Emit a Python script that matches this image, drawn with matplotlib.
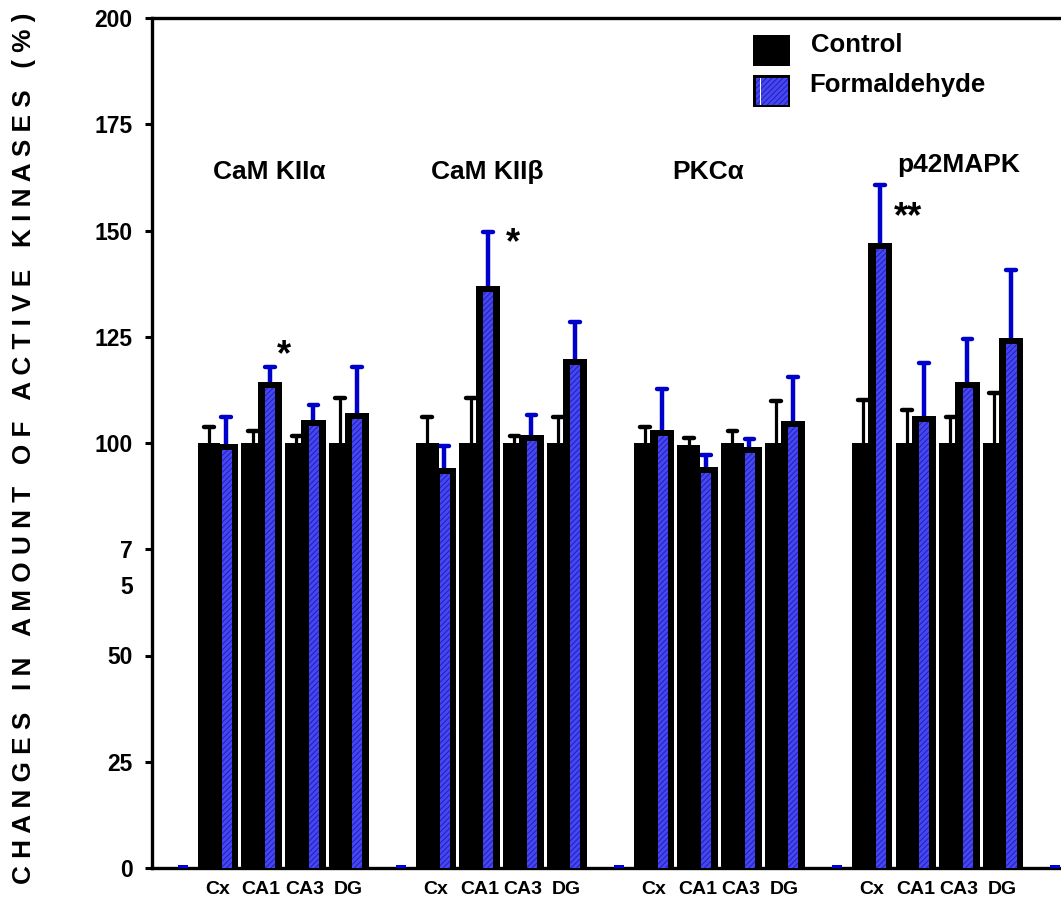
import matplotlib
matplotlib.use('Agg')
import matplotlib.pyplot as plt
from matplotlib.patches import Rectangle
import numpy as np

plt.rcParams['font.family'] = ['Liberation Sans', 'DejaVu Sans']
plt.rcParams['font.weight'] = 'bold'
plt.rcParams['hatch.linewidth'] = 0.7

kinases = ['CaM KII\u03b1', 'CaM KII\u03b2', 'PKC\u03b1', 'p42MAPK']
regions = ['Cx', 'CA1', 'CA3', 'DG']

# % of control, one row per kinase, columns = regions
control = [[100, 100, 100, 100],
           [100, 100, 100, 100],
           [100, 99.6, 100, 100],
           [100, 100, 100, 100]]
control_err = [[3.8, 2.8, 1.6, 10.6],
               [6.1, 10.6, 1.6, 6.1],
               [3.8, 1.6, 2.8, 9.9],
               [10.1, 7.8, 6.1, 11.8]]
formal = [[99.8, 114.4, 105.4, 107.1],
          [94.1, 136.9, 101.9, 119.8],
          [103.1, 94.3, 99.1, 105.2],
          [147.1, 106.4, 114.4, 124.7]]
formal_err = [[6.3, 3.5, 3.5, 10.8],
              [5.2, 12.7, 4.7, 8.7],
              [9.6, 2.9, 1.9, 10.3],
              [13.6, 12.4, 10.1, 16.0]]
# significance marks: (kinase index, mark)
marks = [(0, '*'), (1, '*'), (3, '**')]

yticks = [0, 25, 50, 75, 100, 125, 150, 175, 200]
yticklabels = ['0', '25', '50', '7', '100', '125', '150', '175', '200']

BLUE_FACE = '#4646f5'
BLUE_HATCH = '#2020b0'
ERR_BLUE = '#0000cc'

W, H = 1061, 908
fig = plt.figure(figsize=(W / 100, H / 100), dpi=100)
ax = fig.add_axes([152 / W, 40 / H, (W - 152) / W, 850 / H])

ng = len(kinases)
nr = len(regions)
slots = np.array([[5 * g + i + 1 for i in range(nr)] for g in range(ng)], dtype=float)
ctrl = np.array(control).ravel()
form = np.array(formal).ravel()
ce = np.array(control_err).ravel()
fe = np.array(formal_err).ravel()

off = 0.195
xc = slots.ravel() - off
xf = slots.ravel() + off

ax.bar(xc, ctrl, width=0.52, color='black', zorder=2)
ax.bar(xf, form, width=0.56, color='black', zorder=3)
ax.bar(xf + 0.01, form - 1.4, width=0.23, facecolor=BLUE_FACE,
       edgecolor=BLUE_HATCH, linewidth=0, hatch='//////', zorder=4)

# empty spacer slots show a thin blue stub on the baseline
spacer = np.arange(0, 5 * ng + 1, 5) + off
ax.bar(spacer, np.full(len(spacer), 0.8), width=0.23, color='#0000dd', zorder=4)

# upper-only error bars with rounded caps
cap = 0.11
ax.vlines(xc, ctrl, ctrl + ce, color='black', linewidth=2.3, zorder=1)
ax.hlines(ctrl + ce, xc - cap, xc + cap, color='black', linewidth=3.2,
          capstyle='round', zorder=1)
ax.vlines(xf, form, form + fe, color=ERR_BLUE, linewidth=3.2, zorder=1)
ax.hlines(form + fe, xf - cap, xf + cap, color=ERR_BLUE, linewidth=3.2,
          capstyle='round', zorder=1)

# group titles
title_pos = [(2.18, 163.8), (7.18, 163.8), (12.25, 163.8), (18.0, 165.4)]
for name, (tx, ty) in zip(kinases, title_pos):
    ax.text(tx, ty, name, ha='center', va='center', fontsize=19, fontweight='bold')

mark_pos = [(2.52, 120.5), (7.78, 147.0), (16.83, 153.0)]
for (g, m), (mx, my) in zip(marks, mark_pos):
    ax.text(mx, my, m, ha='center', va='center', fontsize=26, fontweight='bold')

ax.set_xlim(-0.505, 20.34)
ax.set_ylim(0, 200)
ax.set_xticks(slots.ravel())
ax.set_xticklabels(regions * ng, fontsize=14, fontweight='bold')
ax.tick_params(axis='x', length=0, pad=9)
ax.set_yticks(yticks)
ax.set_yticklabels(yticklabels, fontsize=16.5, fontweight='bold')
ax.tick_params(axis='y', direction='out', length=5, width=2.2, pad=9)
ax.text(-0.021, 65.9, '5', transform=ax.get_yaxis_transform(), ha='right',
        va='center', fontsize=16.5, fontweight='bold')

for s in ['left', 'top', 'bottom']:
    ax.spines[s].set_linewidth(2.4)
ax.spines['right'].set_visible(False)

fig.text(24 / W, 1 - 448 / H,
         'C H A N G E S   I N   A M O U N T   O F   A C T I V E   K I N A S E S   ( % )',
         rotation=90, ha='center', va='center', fontsize=18.8, fontweight='bold')

# legend drawn by hand
def fig_rect(x0, y0, x1, y1, **kw):
    r = Rectangle((x0 / W, 1 - y1 / H), (x1 - x0) / W, (y1 - y0) / H,
                  transform=fig.transFigure, **kw)
    fig.add_artist(r)

fig_rect(753, 35, 790, 66, facecolor='black', edgecolor='none')
fig_rect(753, 75, 790, 107, facecolor='black', edgecolor='none')
fig_rect(755.5, 77.5, 787.5, 104.5, facecolor=BLUE_FACE, edgecolor=BLUE_HATCH,
         linewidth=0, hatch='//////')
fig_rect(759.5, 77.5, 760.5, 104.5, facecolor='white', edgecolor='none')
fig.text(811 / W, 1 - 45 / H, 'Control', ha='left', va='center', fontsize=18.5, fontweight='bold')
fig.text(809 / W, 1 - 85 / H, 'Formaldehyde', ha='left', va='center', fontsize=18.5, fontweight='bold')

fig.savefig('out.png', dpi=100)
